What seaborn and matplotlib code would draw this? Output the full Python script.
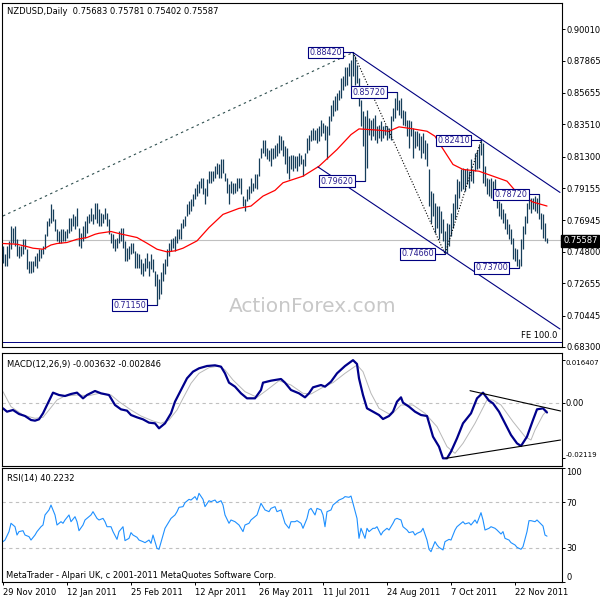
import matplotlib
matplotlib.use("Agg")
import matplotlib.pyplot as plt
import seaborn as sns
import pandas as pd

# ---------------- data ----------------
highs = [0.7521,0.7464,0.7521,0.7555,0.7657,0.7646,0.7657,0.7566,0.7521,0.7521,
         0.7566,0.7566,0.7498,0.7419,0.7419,0.7419,0.7453,0.7475,0.7498,0.7498,
         0.7521,0.7600,0.7691,0.7714,0.7804,0.7770,0.7702,0.7634,0.7623,0.7634,
         0.7634,0.7623,0.7634,0.7714,0.7714,0.7736,0.7725,0.7782,0.7646,0.7611,
         0.7657,0.7691,0.7725,0.7736,0.7782,0.7736,0.7816,0.7816,0.7770,0.7748,
         0.7736,0.7782,0.7748,0.7702,0.7612,0.7600,0.7566,0.7577,0.7623,0.7646,
         0.7646,0.7555,0.7509,0.7521,0.7543,0.7543,0.7487,0.7475,0.7464,0.7430,
         0.7407,0.7441,0.7475,0.7419,0.7464,0.7430,0.7351,0.7328,0.7294,0.7339,
         0.7407,0.7430,0.7498,0.7543,0.7566,0.7577,0.7589,0.7634,0.7634,0.7680,
         0.7702,0.7725,0.7804,0.7827,0.7838,0.7873,0.7918,0.7941,0.7963,0.7986,
         0.7986,0.7918,0.7975,0.8031,0.8031,0.8031,0.8066,0.8088,0.8077,0.8111,
         0.8111,0.8020,0.7986,0.7941,0.7963,0.7952,0.7952,0.7986,0.7986,0.7986,
         0.7861,0.7838,0.7907,0.7929,0.7986,0.7952,0.8009,0.8009,0.8122,0.8190,
         0.8247,0.8247,0.8190,0.8179,0.8190,0.8190,0.8213,0.8224,0.8281,0.8270,
         0.8247,0.8202,0.8190,0.8134,0.8145,0.8145,0.8134,0.8134,0.8156,0.8145,
         0.8111,0.8156,0.8259,0.8281,0.8315,0.8327,0.8315,0.8327,0.8338,0.8383,
         0.8361,0.8349,0.8338,0.8406,0.8485,0.8519,0.8542,0.8565,0.8588,0.8667,
         0.8678,0.8746,0.8746,0.8769,0.8792,0.8842,0.8815,0.8758,0.8667,0.8519,
         0.8440,0.8406,0.8452,0.8395,0.8383,0.8395,0.8417,0.8338,0.8349,0.8372,
         0.8338,0.8349,0.8338,0.8327,0.8406,0.8463,0.8531,0.8572,0.8520,0.8531,
         0.8452,0.8440,0.8383,0.8383,0.8372,0.8327,0.8304,0.8304,0.8292,0.8270,
         0.8292,0.8247,0.8224,0.8043,0.7895,0.7884,0.7816,0.7793,0.7793,0.7759,
         0.7702,0.7623,0.7680,0.7668,0.7748,0.7816,0.7873,0.7975,0.7963,0.8043,
         0.8054,0.8043,0.8054,0.8032,0.8111,0.8043,0.8156,0.8179,0.8213,0.8241,
         0.8224,0.8066,0.7986,0.7975,0.7986,0.7963,0.7975,0.7907,0.7827,0.7816,
         0.7770,0.7748,0.7702,0.7668,0.7634,0.7577,0.7509,0.7498,0.7430,0.7566,
         0.7657,0.7725,0.7816,0.7839,0.7850,0.7850,0.7861,0.7850,0.7872,0.7748,
         0.7736,0.7680,0.7578]
lows = [0.7407,0.7384,0.7384,0.7441,0.7498,0.7543,0.7521,0.7453,0.7441,0.7453,
        0.7464,0.7498,0.7362,0.7335,0.7335,0.7339,0.7384,0.7373,0.7419,0.7441,
        0.7464,0.7498,0.7589,0.7657,0.7680,0.7691,0.7623,0.7555,0.7543,0.7543,
        0.7555,0.7555,0.7577,0.7611,0.7623,0.7657,0.7634,0.7657,0.7521,0.7509,
        0.7555,0.7577,0.7611,0.7680,0.7691,0.7668,0.7702,0.7680,0.7657,0.7657,
        0.7680,0.7702,0.7657,0.7600,0.7543,0.7509,0.7487,0.7509,0.7543,0.7555,
        0.7509,0.7419,0.7419,0.7430,0.7464,0.7475,0.7373,0.7373,0.7373,0.7328,
        0.7316,0.7351,0.7373,0.7316,0.7362,0.7339,0.7248,0.7115,0.7158,0.7192,
        0.7282,0.7328,0.7385,0.7453,0.7487,0.7509,0.7487,0.7543,0.7566,0.7566,
        0.7646,0.7657,0.7725,0.7736,0.7759,0.7793,0.7838,0.7861,0.7884,0.7918,
        0.7873,0.7804,0.7861,0.7952,0.7952,0.7963,0.7986,0.8009,0.7986,0.7986,
        0.8020,0.7963,0.7884,0.7804,0.7884,0.7873,0.7884,0.7895,0.7918,0.7873,
        0.7793,0.7759,0.7827,0.7838,0.7884,0.7895,0.7918,0.7907,0.7998,0.8122,
        0.8156,0.8134,0.8111,0.8100,0.8066,0.8111,0.8122,0.8134,0.8156,0.8179,
        0.8134,0.8077,0.8020,0.7975,0.8043,0.8032,0.8054,0.8032,0.8066,0.8077,
        0.7998,0.8066,0.8156,0.8179,0.8236,0.8247,0.8247,0.8224,0.8236,0.8270,
        0.8293,0.8247,0.8111,0.8281,0.8372,0.8406,0.8440,0.8451,0.8519,0.8531,
        0.8588,0.8610,0.8622,0.8678,0.8610,0.8678,0.8622,0.8633,0.8474,0.8338,
        0.8200,0.7962,0.8054,0.8281,0.8247,0.8270,0.8247,0.8224,0.8258,0.8236,
        0.8258,0.8281,0.8247,0.8258,0.8247,0.8372,0.8395,0.8452,0.8417,0.8395,
        0.8349,0.8338,0.8270,0.8190,0.8270,0.8122,0.8190,0.8202,0.8179,0.8122,
        0.8156,0.8111,0.8066,0.7793,0.7680,0.7725,0.7612,0.7646,0.7566,0.7612,
        0.7555,0.7466,0.7475,0.7521,0.7589,0.7646,0.7702,0.7770,0.7850,0.7895,
        0.7907,0.7895,0.7941,0.7918,0.7963,0.7952,0.8032,0.8043,0.8054,0.8145,
        0.7952,0.7929,0.7873,0.7861,0.7850,0.7839,0.7850,0.7782,0.7725,0.7702,
        0.7680,0.7634,0.7600,0.7566,0.7532,0.7430,0.7419,0.7385,0.7370,0.7385,
        0.7498,0.7600,0.7680,0.7770,0.7748,0.7770,0.7759,0.7748,0.7702,0.7634,
        0.7577,0.7555,0.7540]

ma_idx = [0, 7, 12, 15, 20, 24, 27, 32, 37, 42, 46, 48, 54, 58, 62, 67, 72, 77, 82, 86,
          90, 97, 103, 110, 118, 124, 130, 136, 140, 150, 158, 167, 174, 178, 188, 193,
          198, 205, 212, 216, 218, 225, 230, 238, 245, 252, 257, 265, 272]
ma_val = [0.7537, 0.7532, 0.7516, 0.7505, 0.7498, 0.7527, 0.7537, 0.7544, 0.7566, 0.7578,
          0.7600, 0.7607, 0.7619, 0.7605, 0.7593, 0.7578, 0.7539, 0.7498, 0.7480, 0.7487,
          0.7505, 0.7555, 0.7646, 0.7736, 0.7777, 0.7793, 0.7861, 0.7900, 0.7952, 0.7997,
          0.8065, 0.8179, 0.8281, 0.8320, 0.8311, 0.8304, 0.8334, 0.8320, 0.8304, 0.8270,
          0.8225, 0.8077, 0.8043, 0.8031, 0.7997, 0.7963, 0.7884, 0.7820, 0.7793]

macd_idx = [0, 2, 5, 8, 11, 14, 16, 18, 20, 22, 25, 28, 31, 34, 37, 40, 42, 46, 49, 53,
            56, 59, 62, 64, 67, 70, 73, 76, 78, 81, 84, 86, 89, 92, 95, 98, 102, 106, 109, 111,
            113, 116, 119, 122, 126, 129, 130, 134, 139, 141, 144, 148, 151, 153, 155, 159, 161, 164, 167, 171,
            175, 177, 178, 180, 182, 185, 188, 190, 193, 195, 197, 199, 200, 203, 206, 209, 212, 215, 218, 220,
            222, 224, 227, 230, 234, 237, 240, 243, 245, 248, 251, 254, 257, 259, 262, 265, 267, 270, 272]
macd_val = [-0.00204, -0.00332, -0.00268, -0.00421, -0.00498, -0.00651, -0.00677, -0.00626, -0.00396, -0.00077,
            0.00396, 0.00306, 0.00268, 0.00345, 0.00396, 0.00179, 0.00306, 0.00460, 0.00370, 0.00306,
            -0.00077, -0.00243, -0.00294, -0.00460, -0.00549, -0.00626, -0.00753, -0.00779, -0.00970, -0.00779,
            -0.00396, 0.00051, 0.00498, 0.00945, 0.01200, 0.01328, 0.01417, 0.01443, 0.01392, 0.01136,
            0.00779, 0.00626, 0.00370, 0.00179, 0.00179, 0.00498, 0.00779, 0.00855, 0.00919, 0.00779,
            0.00498, 0.00370, 0.00217, 0.00370, 0.00600, 0.00689, 0.00626, 0.00817, 0.01136, 0.01417,
            0.01641, 0.01494, 0.00945, 0.00306, -0.00204, -0.00332, -0.00460, -0.00613, -0.00498, -0.00332,
            0.00051, 0.00217, 0.00013, -0.00140, -0.00332, -0.00460, -0.00498, -0.01289, -0.01672, -0.02119,
            -0.02119, -0.01864, -0.01353, -0.00779, -0.00396, 0.00179, 0.00396, 0.00089, -0.00013, -0.00332,
            -0.00779, -0.01226, -0.01545, -0.01647, -0.01289, -0.00651, -0.00243, -0.00204, -0.00363]
sig_idx = [0, 4, 10, 16, 20, 23, 27, 31, 37, 43, 48, 54, 58, 64, 69, 75, 79, 83, 87, 90,
           94, 98, 103, 108, 111, 115, 121, 127, 132, 138, 144, 150, 154, 159, 165, 171, 177, 180, 184, 188,
           194, 199, 205, 211, 217, 222, 226, 230, 236, 242, 245, 249, 255, 261, 264, 266, 270, 272]
sig_val = [0.00434, -0.00140, -0.00460, -0.00587, -0.00549, -0.00268, 0.00115, 0.00268, 0.00306, 0.00281,
           0.00370, 0.00306, 0.00051, -0.00268, -0.00498, -0.00689, -0.00779, -0.00651, -0.00268, 0.00179,
           0.00753, 0.01136, 0.01353, 0.01417, 0.01264, 0.00881, 0.00434, 0.00217, 0.00498, 0.00855,
           0.00689, 0.00370, 0.00345, 0.00562, 0.00779, 0.01136, 0.01455, 0.01200, 0.00370, -0.00204,
           -0.00460, -0.00077, -0.00077, -0.00396, -0.00906, -0.01672, -0.01928, -0.01545, -0.00779, 0.00115,
           0.00115, -0.00077, -0.00715, -0.01289, -0.01417, -0.01034, -0.00460, -0.00285]

rsi_idx = [0, 1, 3, 4, 6, 7, 8, 10, 11, 13, 14, 16, 17, 19, 20, 21, 23, 24, 26, 27,
           29, 30, 31, 33, 34, 36, 37, 38, 40, 41, 43, 44, 45, 47, 48, 50, 51, 52, 54, 55,
           57, 58, 60, 61, 63, 64, 65, 67, 68, 70, 71, 73, 74, 75, 77, 78, 80, 81, 83, 84,
           86, 87, 88, 90, 91, 93, 94, 96, 97, 98, 100, 101, 103, 104, 106, 107, 109, 110, 111, 113,
           114, 116, 117, 118, 120, 121, 123, 124, 126, 127, 129, 130, 131, 133, 134, 136, 137, 139, 140, 141,
           143, 144, 146, 147, 149, 150, 152, 153, 154, 156, 157, 159, 160, 161, 162, 164, 165, 167, 168, 170,
           171, 173, 174, 175, 177, 178, 179, 181, 182, 183, 185, 186, 187, 189, 190, 192, 193, 195, 196, 197,
           199, 200, 202, 203, 205, 206, 207, 209, 210, 212, 213, 214, 216, 217, 218, 220, 221, 223, 224, 226,
           227, 228, 230, 231, 233, 234, 236, 237, 239, 240, 241, 243, 244, 246, 247, 249, 250, 251, 253, 254,
           256, 257, 259, 260, 262, 263, 264, 266, 267, 269, 270, 271, 272]
rsi_val = [35.4, 36.8, 44.2, 51.5, 48.5, 41.2, 44.2, 45.0, 41.2, 39.8, 36.8, 41.2, 44.2, 48.5, 50.0, 58.8, 63.2, 67.5, 58.8, 50.0,
           52.9, 51.5, 54.4, 58.8, 52.9, 57.3, 52.9, 45.0, 50.0, 54.4, 57.3, 58.8, 61.7, 55.8, 54.4, 55.8, 52.9, 48.5, 48.5, 44.2,
           37.4, 44.2, 48.5, 36.3, 38.3, 43.3, 41.2, 39.2, 36.8, 35.4, 34.5, 36.8, 33.9, 41.2, 29.5, 28.7, 41.2, 47.1, 52.9, 55.8,
           58.8, 61.7, 65.5, 66.1, 69.6, 72.5, 71.9, 74.9, 71.9, 77.8, 72.5, 66.1, 71.3, 70.5, 71.9, 69.6, 71.3, 67.5, 58.8, 51.5,
           54.4, 52.9, 51.5, 50.0, 44.2, 50.0, 51.5, 54.4, 57.3, 58.8, 69.0, 66.1, 63.2, 61.7, 64.6, 66.1, 61.7, 63.2, 57.3, 51.5,
           47.1, 52.9, 52.9, 53.8, 51.5, 47.1, 55.8, 63.2, 64.6, 58.8, 64.6, 63.2, 58.8, 48.5, 61.7, 63.2, 67.5, 70.5, 71.9, 73.4,
           74.9, 74.3, 75.4, 69.0, 55.8, 38.3, 47.1, 38.3, 47.1, 44.2, 47.1, 47.1, 48.5, 41.2, 44.2, 47.1, 45.6, 51.5, 55.0, 55.8,
           54.4, 48.5, 45.6, 43.3, 44.2, 41.2, 42.7, 44.2, 47.1, 36.8, 28.7, 26.6, 35.4, 32.5, 30.4, 28.1, 35.4, 37.4, 36.8, 45.6,
           48.5, 50.0, 52.9, 50.9, 52.0, 50.0, 54.4, 51.5, 60.8, 54.4, 45.6, 47.1, 48.5, 47.1, 45.6, 42.1, 44.2, 38.3, 36.8, 34.5,
           32.5, 30.4, 28.7, 31.0, 44.2, 53.8, 53.8, 52.9, 54.4, 50.9, 49.1, 41.2, 40.2]

date_bars = [0, 32, 64, 96, 128, 160, 192, 224, 256]
date_labels = ["29 Nov 2010", "12 Jan 2011", "25 Feb 2011", "12 Apr 2011", "26 May 2011",
               "11 Jul 2011", "24 Aug 2011", "7 Oct 2011", "22 Nov 2011"]
price_ticks = [0.90010, 0.87865, 0.85655, 0.83510, 0.81300, 0.79155, 0.76945,
               0.74800, 0.72655, 0.70445, 0.68300]
macd_ticks = [0.016407, 0.0, -0.02119]
macd_tick_labels = ["0.016407", "0.00", "-0.02119"]
rsi_ticks = [100, 70, 30, 0]

# swing-point labels: bar index, price
swing_bars = [175, 197, 181, 239, 268, 221, 258, 77]
swing_prices = [0.88420, 0.85720, 0.79620, 0.82410, 0.78720, 0.74660, 0.73700, 0.71150]

trend_bars = [0, 175]
trend_prices = [0.7725, 0.8842]
fe_bars = [175, 221, 239]
fe_prices = [0.8842, 0.7466, 0.8241]
chan_up_bars = [175, 278.5]
chan_up_prices = [0.8842, 0.7886]
chan_lo_bars = [157.5, 278.5]
chan_lo_prices = [0.8060, 0.6953]
fe100_price = 0.6865
last_price = 0.75587
macd_up_bars = [233.5, 278.8]
macd_up_vals = [0.00472, -0.00306]
macd_lo_bars = [221.4, 278.8]
macd_lo_vals = [-0.02119, -0.01417]

header = "NZDUSD,Daily  0.75683 0.75781 0.75402 0.75587"
macd_header = "MACD(12,26,9) -0.003632 -0.002846"
rsi_header = "RSI(14) 40.2232"
footer = "MetaTrader - Alpari UK, c 2001-2011 MetaQuotes Software Corp."
watermark = "ActionForex.com"

# ---------------- style ----------------
sns.set_theme(style="white")
plt.rcParams['font.family'] = ['DejaVu Sans']
FS = 6.0
BAR = '#163e5a'
NAVY = '#000080'

W = H = 600
fig = plt.figure(figsize=(6, 6), dpi=100)
fig.patch.set_facecolor('white')

def rect(l, t, r, b):
    return [l / W, 1 - b / H, (r - l) / W, (b - t) / H]

ax_p = fig.add_axes(rect(2, 3, 562, 347))
ax_m = fig.add_axes(rect(2, 353, 562, 466))
ax_r = fig.add_axes(rect(2, 468, 562, 582))

XL = (-0.5, 279.5)
for ax in (ax_p, ax_m, ax_r):
    ax.set_facecolor('white')
    for s in ax.spines.values():
        s.set_color('black')
        s.set_linewidth(0.8)
    ax.set_xlim(*XL)

# ---- price panel ----
idx = list(range(len(highs)))
ax_p.axhline(last_price, color='#c0c0c0', lw=0.8, zorder=1)
ax_p.axhline(fe100_price, color=NAVY, lw=0.7, zorder=1)
ax_p.text(277, fe100_price + 0.0012, "FE 100.0", ha='right', va='bottom',
          fontsize=FS, color='black', zorder=6)
ax_p.text(155, 0.7105, watermark, ha='center', va='center',
          fontsize=14.5, color='#c8c8c8', zorder=0)
ax_p.vlines(idx, lows, highs, color=BAR, lw=0.9, zorder=3)
sns.lineplot(x=ma_idx, y=ma_val, ax=ax_p, color='#ff0000', lw=0.9,
             estimator=None, sort=False, zorder=4)
ax_p.plot(trend_bars, trend_prices, color='#2f4f4f', lw=0.8,
          dashes=(2.2, 3.0), zorder=2)
ax_p.plot(fe_bars, fe_prices, color='black', lw=0.8, dashes=(1.0, 1.6), zorder=5)
ax_p.plot(chan_up_bars, chan_up_prices, color=NAVY, lw=0.8, zorder=5)
ax_p.plot(chan_lo_bars, chan_lo_prices, color=NAVY, lw=0.8, zorder=5)
for b, p in zip(swing_bars, swing_prices):
    ax_p.plot([b - 5.0, b], [p, p], color=NAVY, lw=0.8, zorder=6)
    ax_p.text(b - 5.6, p, f"{p:.5f}", ha='right', va='center', fontsize=5.8,
              color='#2b2090', zorder=7,
              bbox=dict(boxstyle='square,pad=0.18', fc='white', ec=NAVY, lw=0.8))
ax_p.set_ylim(0.68374, 0.91801)
ax_p.set_xticks([])
ax_p.set_yticks(price_ticks)
ax_p.set_yticklabels([f"{t:.5f}" for t in price_ticks])
ax_p.set_xlabel('')
ax_p.set_ylabel('')

# ---- MACD panel ----
ax_m.axhline(0, color='#c0c0c0', lw=0.8, dashes=(3, 3))
sns.lineplot(x=sig_idx, y=sig_val, ax=ax_m, color='#b8b8b8', lw=0.7,
             estimator=None, sort=False)
sns.lineplot(x=macd_idx, y=macd_val, ax=ax_m, color='#00008b', lw=1.6,
             estimator=None, sort=False)
ax_m.plot(macd_up_bars, macd_up_vals, color='black', lw=0.8)
ax_m.plot(macd_lo_bars, macd_lo_vals, color='black', lw=0.8)
ax_m.set_ylim(-0.02413, 0.01915)
ax_m.set_xticks([])
ax_m.set_yticks(macd_ticks)
ax_m.set_yticklabels(macd_tick_labels)
ax_m.set_xlabel('')
ax_m.set_ylabel('')

# ---- RSI panel ----
for lv in (70, 30):
    ax_r.axhline(lv, color='#c0c0c0', lw=0.8, dashes=(3, 3))
sns.lineplot(x=rsi_idx, y=rsi_val, ax=ax_r, color='#1e90ff', lw=0.8,
             estimator=None, sort=False)
ax_r.set_ylim(0, 100)
ax_r.set_yticks(rsi_ticks)
ax_r.set_yticklabels([str(t) for t in rsi_ticks])
ax_r.set_xticks(date_bars)
ax_r.set_xticklabels(date_labels, ha='left')
ax_r.set_xlabel('')
ax_r.set_ylabel('')

for ax in (ax_p, ax_m, ax_r):
    ax.yaxis.tick_right()
    ax.tick_params(axis='y', which='both', right=True, left=False, labelright=True,
                   labelleft=False, length=2.2, width=0.7, pad=1.0,
                   labelsize=FS, colors='black')
    ax.set_xlim(*XL)
ax_m.tick_params(axis='y', pad=0.5)
ax_r.tick_params(axis='x', bottom=True, length=2.5, width=0.7, pad=1.5,
                 labelsize=FS, colors='black')

# inset MACD / RSI edge labels; keep long MACD labels inside the image
labs = ax_m.get_yticklabels()
labs[0].set_va('top'); labs[-1].set_va('bottom')
labs[0].set_fontsize(5.0); labs[-1].set_fontsize(5.0)
labs = ax_r.get_yticklabels()
labs[0].set_va('top'); labs[-1].set_va('bottom')

# current price tag
fig.text(563 / W, 1 - 241 / H, "0.75587", fontsize=FS, color='white',
         ha='left', va='center',
         bbox=dict(boxstyle='square,pad=0.2', fc='black', ec='black'))

# panel headers
fig.text(7 / W, 1 - 11 / H, header, fontsize=FS, ha='left', va='center', color='black')
fig.text(7 / W, 1 - 365 / H, macd_header, fontsize=FS, ha='left', va='center', color='black')
fig.text(7 / W, 1 - 478 / H, rsi_header, fontsize=FS, ha='left', va='center', color='black')
fig.text(6 / W, 1 - 576 / H, footer, fontsize=FS, ha='left', va='center', color='black')

fig.savefig("out.png", dpi=100, facecolor='white')
